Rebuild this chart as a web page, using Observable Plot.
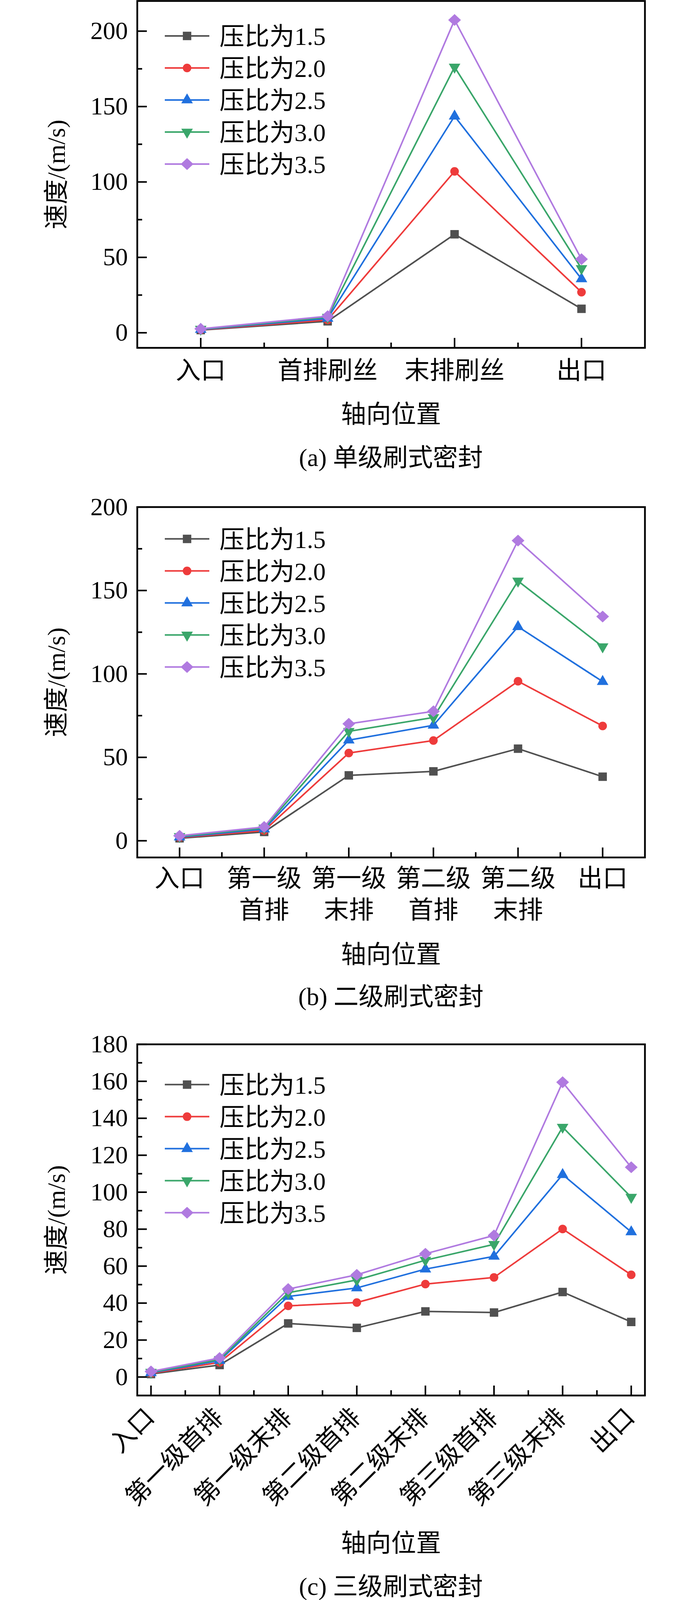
<!DOCTYPE html>
<html><head><meta charset="utf-8">
<script src="https://cdn.jsdelivr.net/npm/d3@7"></script>
<script src="https://cdn.jsdelivr.net/npm/@observablehq/plot@0.6"></script>
<style>
body{margin:0;background:#fff}
#wrap{position:relative;width:1772px;height:4105px;background:#fff;font-family:'Liberation Serif','Noto Sans CJK SC',serif;color:#000;overflow:hidden}
.panel{position:absolute;left:0}
.cap{position:absolute;left:351px;width:1300px;text-align:center;font-size:64px;line-height:1;transform:translateY(-50%);white-space:nowrap}
</style></head><body><div id="wrap"></div>
<script>
const FONT = "'Liberation Serif','Noto Sans CJK SC',serif";
const seriesNames = ["压比为1.5","压比为2.0","压比为2.5","压比为3.0","压比为3.5"];
const seriesColors = ["#505050","#ee3b3b","#2070de","#3aa66a","#b07ae0"];

// Panel (a) 单级刷式密封
const catsA = ["入口","首排刷丝","末排刷丝","出口"];
const a15 = [1.8, 7.6, 65.3, 15.9];
const a20 = [2.0, 8.5, 107.0, 26.9];
const a25 = [2.2, 9.5, 143.6, 35.7];
const a30 = [2.4, 10.3, 176.2, 42.6];
const a35 = [2.6, 11.0, 207.4, 48.8];
const yTicksA = [0, 50, 100, 150, 200];
const yMinorA = [25, 75, 125, 175];

// Panel (b) 二级刷式密封
const catsB = ["入口","第一级\n首排","第一级\n末排","第二级\n首排","第二级\n末排","出口"];
const b15 = [1.5, 5.3, 39.2, 41.6, 55.2, 38.4];
const b20 = [1.9, 6.1, 52.6, 60.1, 95.6, 68.8];
const b25 = [2.2, 7.0, 60.3, 69.2, 128.3, 95.4];
const b30 = [2.6, 7.7, 65.6, 73.9, 155.7, 116.3];
const b35 = [3.0, 8.3, 70.1, 77.6, 179.9, 134.4];
const yTicksB = [0, 50, 100, 150, 200];
const yMinorB = [25, 75, 125, 175];

// Panel (c) 三级刷式密封
const catsC = ["入口","第一级首排","第一级末排","第二级首排","第二级末排","第三级首排","第三级末排","出口"];
const c15 = [1.6, 6.5, 29.0, 26.6, 35.5, 34.9, 46.0, 29.8];
const c20 = [2.0, 7.9, 38.5, 40.3, 50.3, 53.9, 80.1, 55.3];
const c25 = [2.3, 8.9, 43.6, 48.2, 58.4, 65.3, 109.5, 78.5];
const c30 = [2.6, 9.5, 45.6, 52.5, 63.2, 71.8, 135.2, 97.3];
const c35 = [3.0, 10.3, 47.6, 55.3, 66.7, 76.6, 159.5, 113.5];
const yTicksC = [0, 20, 40, 60, 80, 100, 120, 140, 160, 180];
const yMinorC = [10, 30, 50, 70, 90, 110, 130, 150, 170];

const xTitle = "轴向位置";
const yTitle = "速度/(m/s)";
const captions = ["(a) 单级刷式密封","(b) 二级刷式密封","(c) 三级刷式密封"];

// custom symbols
const triangleDown = {draw(ctx, size){const y=-Math.sqrt(size/(Math.sqrt(3)*3));ctx.moveTo(0,-2*y);ctx.lineTo(-Math.sqrt(3)*y,y);ctx.lineTo(Math.sqrt(3)*y,y);ctx.closePath();}};
const diamondSq = {draw(ctx, size){const h=Math.sqrt(size)/Math.SQRT2*1.05;ctx.moveTo(0,-h);ctx.lineTo(h*1.08,0);ctx.lineTo(0,h);ctx.lineTo(-h*1.08,0);ctx.closePath();}};
const seriesSymbols = [d3.symbolSquare, d3.symbolCircle, d3.symbolTriangle, triangleDown, diamondSq];
const seriesR = [12.2, 11, 11, 11, 11.5];

function legendMark(topOffset){
  return (index, scales, values, dims) => {
    const g = d3.create("svg:g");
    seriesNames.forEach((name, i) => {
      const y = dims.marginTop + topOffset + 82*i;
      g.append("line").attr("x1",422).attr("x2",536).attr("y1",y).attr("y2",y)
        .attr("stroke",seriesColors[i]).attr("stroke-width",4);
      g.append("path").attr("transform",`translate(479,${y})`)
        .attr("d", d3.symbol(seriesSymbols[i], Math.PI*seriesR[i]*seriesR[i])())
        .attr("fill",seriesColors[i]);
      g.append("text").attr("x",562).attr("y",y).attr("dy","0.36em")
        .attr("text-anchor","start")
        .attr("font-size",64).attr("font-family",FONT).attr("fill","#000").text(name);
    });
    return g.node();
  };
}

function panel(cfg){
  const W = 1772, ML = 351, MR = 121;
  const innerW = W - ML - MR;
  const innerH = cfg.h - cfg.mt - cfg.mb;
  const idx = cfg.cats.map((_, i) => i);
  const xMinor = idx.slice(0, -1).map(i => i + 0.5);
  const marks = [];
  marks.push(Plot.tickX(xMinor, {x: d => d, insetTop: innerH - 13, stroke: "#000", strokeWidth: 4}));
  marks.push(Plot.tickX(idx, {x: d => d, insetTop: innerH - 25, stroke: "#000", strokeWidth: 4}));
  marks.push(Plot.tickY(cfg.yMinor, {y: d => d, insetRight: innerW - 13, stroke: "#000", strokeWidth: 4}));
  marks.push(Plot.tickY(cfg.yTicks, {y: d => d, insetRight: innerW - 25, stroke: "#000", strokeWidth: 4}));
  cfg.series.forEach((vals, s) => {
    const data = vals.map((v, i) => ({i, v}));
    marks.push(Plot.line(data, {x: "i", y: "v", stroke: seriesColors[s], strokeWidth: 4}));
    marks.push(Plot.dot(data, {x: "i", y: "v", symbol: seriesSymbols[s], r: seriesR[s], fill: seriesColors[s], stroke: "none"}));
  });
  marks.push(Plot.frame({stroke: "#000", strokeWidth: 4.5}));
  // y tick labels
  marks.push(Plot.text(cfg.yTicks, {y: d => d, text: d => String(d), frameAnchor: "left", dx: -24,
    textAnchor: "end", lineAnchor: "middle", fontSize: 64, fontFamily: FONT, fill: "#000"}));
  // x tick labels
  if (cfg.rotate) {
    marks.push(Plot.text(idx, {x: d => d, text: d => cfg.cats[d], frameAnchor: "bottom", dy: 45, dx: -2,
      rotate: -45, textAnchor: "end", lineAnchor: "middle", fontSize: 64, fontFamily: FONT, fill: "#000"}));
  } else if (cfg.twoLine) {
    marks.push(Plot.text(idx, {x: d => d, text: d => cfg.cats[d].split("\n")[0], frameAnchor: "bottom", dy: cfg.dy1,
      lineAnchor: "middle", fontSize: 64, fontFamily: FONT, fill: "#000"}));
    marks.push(Plot.text(idx, {x: d => d, text: d => cfg.cats[d].split("\n")[1] || "", frameAnchor: "bottom", dy: cfg.dy2,
      lineAnchor: "middle", fontSize: 64, fontFamily: FONT, fill: "#000"}));
  } else {
    marks.push(Plot.text(idx, {x: d => d, text: d => cfg.cats[d], frameAnchor: "bottom", dy: cfg.dy1,
      lineAnchor: "middle", fontSize: 64, fontFamily: FONT, fill: "#000"}));
  }
  // axis titles
  marks.push(Plot.text([xTitle], {frameAnchor: "bottom", dy: cfg.titleDy, lineAnchor: "middle",
    fontSize: 64, fontFamily: FONT, fill: "#000"}));
  marks.push(Plot.text([yTitle], {frameAnchor: "left", dx: -206, rotate: -90, lineAnchor: "middle",
    textAnchor: "middle", fontSize: 64, fontFamily: FONT, fill: "#000"}));
  marks.push(legendMark(cfg.legendTop));
  const svg = Plot.plot({
    width: W, height: cfg.h,
    marginLeft: ML, marginRight: MR, marginTop: cfg.mt, marginBottom: cfg.mb,
    x: {type: "linear", domain: cfg.xDomain, axis: null},
    y: {type: "linear", domain: cfg.yDomain, axis: null},
    style: {fontFamily: FONT, background: "white", overflow: "visible"},
    marks
  });
  svg.classList.add("panel");
  svg.style.top = cfg.top + "px";
  svg.style.position = "absolute";
  return svg;
}

const wrap = document.getElementById("wrap");
wrap.appendChild(panel({top: 0, h: 1110, mt: 2, mb: 220, cats: catsA, series: [a15,a20,a25,a30,a35],
  xDomain: [-0.5, 3.5], yDomain: [-10, 220], yTicks: yTicksA, yMinor: yMinorA,
  dy1: 59, titleDy: 171, legendTop: 90}));
wrap.appendChild(panel({top: 1250, h: 1250, mt: 47.6, mb: 305.4, cats: catsB, series: [b15,b20,b25,b30,b35],
  xDomain: [-0.5, 5.5], yDomain: [-10, 200], yTicks: yTicksB, yMinor: yMinorB,
  twoLine: true, dy1: 54.4, dy2: 135.4, titleDy: 249.4, legendTop: 82}));
wrap.appendChild(panel({top: 2600, h: 1410, mt: 73, mb: 438, cats: catsC, series: [c15,c20,c25,c30,c35],
  xDomain: [-0.2, 7.2], yDomain: [-10, 180], yTicks: yTicksC, yMinor: yMinorC,
  rotate: true, titleDy: 379, legendTop: 103.6}));

const capY = [1172, 2552, 4062];
captions.forEach((c, i) => {
  const d = document.createElement("div");
  d.className = "cap";
  d.style.top = capY[i] + "px";
  d.textContent = c;
  wrap.appendChild(d);
});
</script>
</body></html>
